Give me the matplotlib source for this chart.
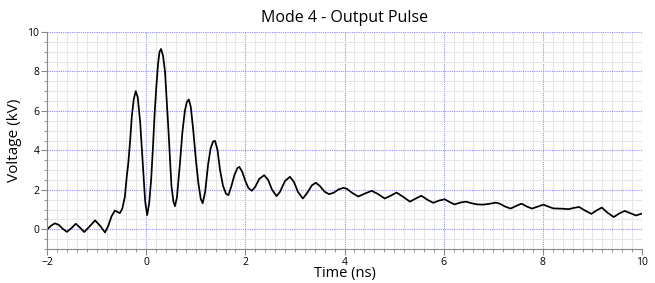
import matplotlib
matplotlib.use("Agg")
import matplotlib.pyplot as plt
from matplotlib.ticker import MultipleLocator

title = "Mode 4 - Output Pulse"
xlabel = "Time (ns)"
ylabel = "Voltage (kV)"

time_ns = [
    -2.00, -1.92, -1.84, -1.76, -1.68, -1.60, -1.51, -1.42, -1.34, -1.25,
    -1.15, -1.03, -0.93, -0.83, -0.76, -0.70, -0.63, -0.58, -0.53, -0.48,
    -0.43, -0.39, -0.36, -0.32, -0.29, -0.25, -0.21, -0.17, -0.12, -0.06,
    -0.02, 0.02, 0.06, 0.10, 0.14, 0.17, 0.21, 0.24, 0.27, 0.30,
    0.34, 0.38, 0.45, 0.51, 0.55, 0.58, 0.62, 0.68, 0.73, 0.78,
    0.82, 0.86, 0.90, 0.95, 1.00, 1.05, 1.10, 1.14, 1.19, 1.25,
    1.30, 1.35, 1.39, 1.44, 1.49, 1.55, 1.61, 1.66, 1.72, 1.78,
    1.84, 1.88, 1.94, 2.00, 2.06, 2.13, 2.20, 2.28, 2.38, 2.46,
    2.54, 2.63, 2.70, 2.80, 2.90, 2.98, 3.06, 3.16, 3.25, 3.34,
    3.42, 3.50, 3.60, 3.69, 3.78, 3.88, 3.98, 4.05, 4.15, 4.28,
    4.40, 4.55, 4.68, 4.81, 4.93, 5.05, 5.18, 5.32, 5.43, 5.55,
    5.67, 5.79, 5.90, 6.02, 6.12, 6.22, 6.33, 6.45, 6.56, 6.68,
    6.80, 6.92, 7.05, 7.13, 7.24, 7.35, 7.46, 7.57, 7.68, 7.78,
    7.90, 8.01, 8.11, 8.21, 8.31, 8.41, 8.52, 8.62, 8.73, 8.85,
    8.98, 9.08, 9.19, 9.30, 9.43, 9.54, 9.65, 9.76, 9.88, 10.00,
]

voltage_kv = [
    -0.02, 0.18, 0.30, 0.22, 0.02, -0.13, 0.05, 0.28, 0.10, -0.14,
    0.12, 0.45, 0.18, -0.16, 0.20, 0.65, 0.95, 0.88, 0.82, 1.05,
    1.65, 2.70, 3.35, 4.60, 5.70, 6.60, 7.00, 6.70, 5.40, 3.00,
    1.40, 0.72, 1.30, 2.50, 4.30, 5.85, 7.40, 8.40, 9.00, 9.14,
    8.80, 8.00, 5.00, 2.20, 1.40, 1.17, 1.60, 3.30, 4.90, 6.00,
    6.45, 6.58, 6.20, 5.00, 3.60, 2.40, 1.55, 1.32, 1.90, 3.30,
    4.10, 4.45, 4.48, 4.00, 3.00, 2.20, 1.80, 1.73, 2.20, 2.75,
    3.10, 3.16, 2.90, 2.45, 2.10, 1.95, 2.15, 2.55, 2.74, 2.50,
    2.00, 1.68, 1.90, 2.45, 2.66, 2.40, 1.90, 1.56, 1.85, 2.22,
    2.36, 2.20, 1.90, 1.78, 1.85, 2.02, 2.10, 2.05, 1.85, 1.66,
    1.80, 1.95, 1.78, 1.56, 1.70, 1.86, 1.65, 1.40, 1.55, 1.70,
    1.50, 1.34, 1.45, 1.52, 1.38, 1.26, 1.35, 1.40, 1.32, 1.26,
    1.25, 1.29, 1.35, 1.30, 1.15, 1.05, 1.18, 1.30, 1.15, 1.05,
    1.15, 1.25, 1.15, 1.06, 1.05, 1.04, 1.02, 1.08, 1.13, 0.95,
    0.78, 0.95, 1.10, 0.85, 0.62, 0.80, 0.93, 0.82, 0.70, 0.80,
]

x_major_ticks = [-2, 0, 2, 4, 6, 8, 10]
y_major_ticks = [0, 2, 4, 6, 8, 10]

plt.rcParams['font.family'] = ['Open Sans', 'DejaVu Sans']

fig = plt.figure(figsize=(6.55, 2.83), dpi=100)
ax = fig.add_axes([47/655, 1 - 249/283, (642-47)/655, (249-32)/283])

ax.set_xlim(-2, 10)
ax.set_ylim(-1, 10)
ax.set_xticks(x_major_ticks)
ax.set_yticks(y_major_ticks)
ax.xaxis.set_minor_locator(MultipleLocator(0.2))
ax.yaxis.set_minor_locator(MultipleLocator(0.5))

ax.grid(which='minor', color='#e6e6e6', linewidth=0.8, linestyle='-')
ax.grid(which='major', color='#8c8cff', linewidth=0.8, linestyle=(0, (1, 1)))
ax.set_axisbelow(True)

ax.plot(time_ns, voltage_kv, color='black', linewidth=1.25,
        solid_joinstyle='round', antialiased=True)

for s in ['top', 'right']:
    ax.spines[s].set_visible(False)
for s in ['left', 'bottom']:
    ax.spines[s].set_color('#888888')
    ax.spines[s].set_linewidth(0.8)

ax.tick_params(which='major', length=4, width=0.8, color='#888888', labelsize=7.5, pad=1.5)
ax.tick_params(which='minor', length=2, width=0.6, color='#888888')

ax.set_title(title, fontsize=11.5, pad=7)
ax.set_xlabel(xlabel, fontsize=10.5, labelpad=-1)
ax.set_ylabel(ylabel, fontsize=11, labelpad=4)

fig.savefig("out.png", dpi=100)
